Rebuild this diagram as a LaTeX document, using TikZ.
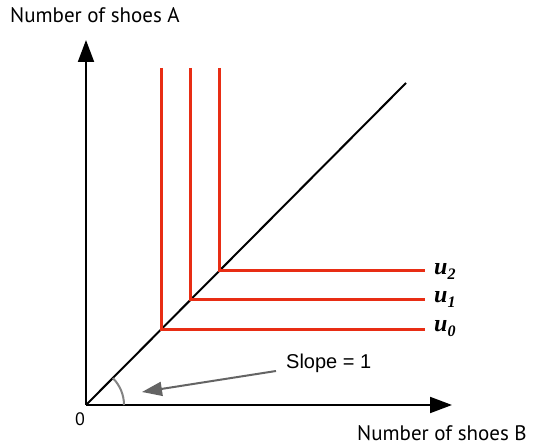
\documentclass[tikz,border=0pt]{standalone}
\usepackage{fontspec}
\setmainfont{PT Sans}
\newfontfamily\slopefont{Liberation Sans}
\newfontfamily\ufont{Liberation Serif}
\usetikzlibrary{arrows.meta}
\definecolor{indred}{RGB}{232,45,20}
\definecolor{arrgray}{RGB}{100,100,100}
\newcommand{\ulab}[1]{u\raisebox{-5pt}{\fontsize{16}{18}\selectfont #1}}
\begin{document}
\begin{tikzpicture}[x=1pt,y=-1pt,
  axis/.style={line width=2pt,-{Triangle[length=22pt,width=16pt]}},
  indiff/.style={draw=indred,line width=3pt,line join=miter},
  ulabel/.style={anchor=base west,font=\ufont\bfseries\itshape\fontsize{24}{26}\selectfont,inner sep=0pt},
  txt/.style={inner sep=0pt}]
\useasboundingbox (0,0) rectangle (539,446);
\coordinate (O) at (86,405);
\coordinate (ytip) at (86,40);
\coordinate (xtip) at (452,405);
\coordinate (dend) at (406,83);
\draw[axis] (O) -- (ytip);
\draw[axis] (O) -- (xtip);
\draw[line width=2pt] (O) -- (dend);
% indifference curves
\coordinate (c0) at (161,330);
\coordinate (c1) at (190,300);
\coordinate (c2) at (219,271);
\draw[indiff] (161,68) -- (c0) -- (425,330);
\draw[indiff] (190,68) -- (c1) -- (425,300);
\draw[indiff] (219,68) -- (c2) -- (425,271);
\node[ulabel] (u2) at (434,275) {\ulab{2}};
\node[ulabel] (u1) at (434,303) {\ulab{1}};
\node[ulabel] (u0) at (434,332) {\ulab{0}};
% angle arc
\draw[arrgray!80,line width=2pt] (O) ++(38,0) arc[start angle=0,end angle=-45,radius=38];
% slope label
\node[txt,font=\slopefont\fontsize{20}{24}\selectfont,anchor=base west] (slope) at (286,369) {Slope = 1};
\coordinate (sarr) at (276,371);
\coordinate (stip) at (142,392);
\draw[arrgray,line width=2pt,-{Triangle[length=20pt,width=14pt]}] (sarr) -- (stip);
% labels
\node[txt,font=\fontsize{21}{24}\selectfont,anchor=base west] (ya) at (10,23) {Number of shoes A};
\node[txt,font=\fontsize{21}{24}\selectfont,anchor=base west] (xb) at (357,441) {Number of shoes B};
\node[txt,font=\fontsize{18}{20}\selectfont,anchor=base] (zero) at (80,426) {0};
\end{tikzpicture}
\end{document}
